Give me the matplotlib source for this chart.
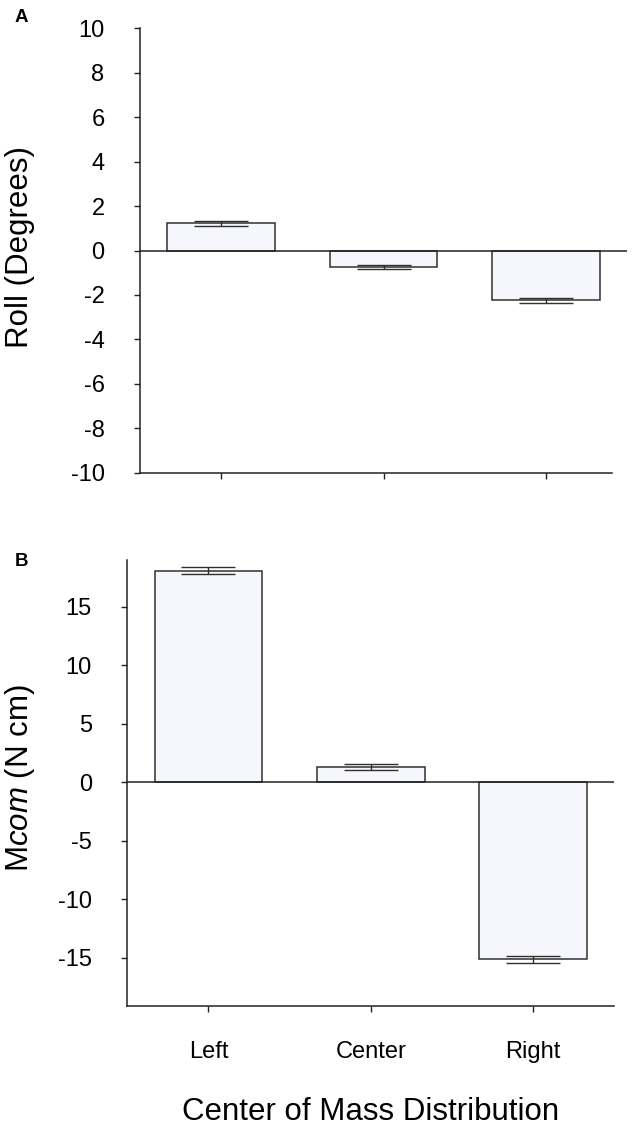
import matplotlib
matplotlib.use("Agg")
import matplotlib.pyplot as plt
import numpy as np

plt.rcParams['font.family'] = ['Liberation Sans', 'DejaVu Sans']
plt.rcParams['mathtext.fontset'] = 'custom'
plt.rcParams['mathtext.rm'] = 'Liberation Sans'
plt.rcParams['mathtext.it'] = 'Liberation Sans:italic'
plt.rcParams['axes.unicode_minus'] = False

categories = ["Left", "Center", "Right"]
roll_mean = [1.23, -0.75, -2.24]
roll_err = [0.12, 0.10, 0.11]
mcom_mean = [18.1, 1.3, -15.15]
mcom_err = [0.30, 0.22, 0.33]
roll_ticks = list(range(-10, 11, 2))
mcom_ticks = [-15, -10, -5, 0, 5, 10, 15]

W, H = 636, 1133
fig = plt.figure(figsize=(W / 100, H / 100), dpi=100)

def fx(px):
    return px / W

def fy(py):
    return 1 - py / H

bar_color = "#F6F6FD"
edge_color = "#303030"

axA = fig.add_axes([fx(140), fy(472.7), fx(627 - 140), fy(28.3) - fy(472.7)])
axB = fig.add_axes([fx(127.3), fy(1005.7), fx(614.5 - 127.3), fy(560) - fy(1005.7)])

def draw(ax, means, errs, ylim, yticks):
    x = np.arange(len(categories))
    ax.bar(x, means, width=0.665, color=bar_color, edgecolor=edge_color,
           linewidth=1.1, zorder=2)
    ax.errorbar(x, means, yerr=errs, fmt='none', ecolor=edge_color,
                elinewidth=1.0, capsize=19.5, capthick=1.0, zorder=3)
    ax.axhline(0, color="#222222", linewidth=1.1, zorder=4)
    ax.set_xlim(-0.5, 2.5)
    ax.set_ylim(*ylim)
    ax.set_yticks(yticks)
    ax.set_xticks(x)
    ax.spines['top'].set_visible(False)
    ax.spines['right'].set_visible(False)
    for s in ('left', 'bottom'):
        ax.spines[s].set_linewidth(1.1)
        ax.spines[s].set_color("#222222")
    ax.tick_params(axis='both', direction='out', length=4.5, width=1.0,
                   color="#222222", labelsize=17, pad=21)

draw(axA, roll_mean, roll_err, (-10, 10), roll_ticks)
axA.set_xticklabels([])
axA.spines['bottom'].set_bounds(-0.5, 2.41)

draw(axB, mcom_mean, mcom_err, (-19.1, 19.0), mcom_ticks)
axB.set_xticklabels(categories)
axB.tick_params(axis='x', pad=21)

fig.text(fx(20), fy(247), "Roll (Degrees)", rotation=90, ha='center', va='center', fontsize=22.5)
fig.text(fx(20), fy(778), r"$\mathrm{M}\mathit{com}\ \mathrm{(N\ cm)}$", rotation=90,
         ha='center', va='center', fontsize=22.5)
fig.text(fx(371), fy(1112), "Center of Mass Distribution", ha='center', va='center', fontsize=22.5)

fig.text(fx(21), fy(18), "A", ha='center', va='center', fontsize=13.5, fontweight='bold')
fig.text(fx(21), fy(562), "B", ha='center', va='center', fontsize=13.5, fontweight='bold')

fig.savefig("out.png", dpi=100)
